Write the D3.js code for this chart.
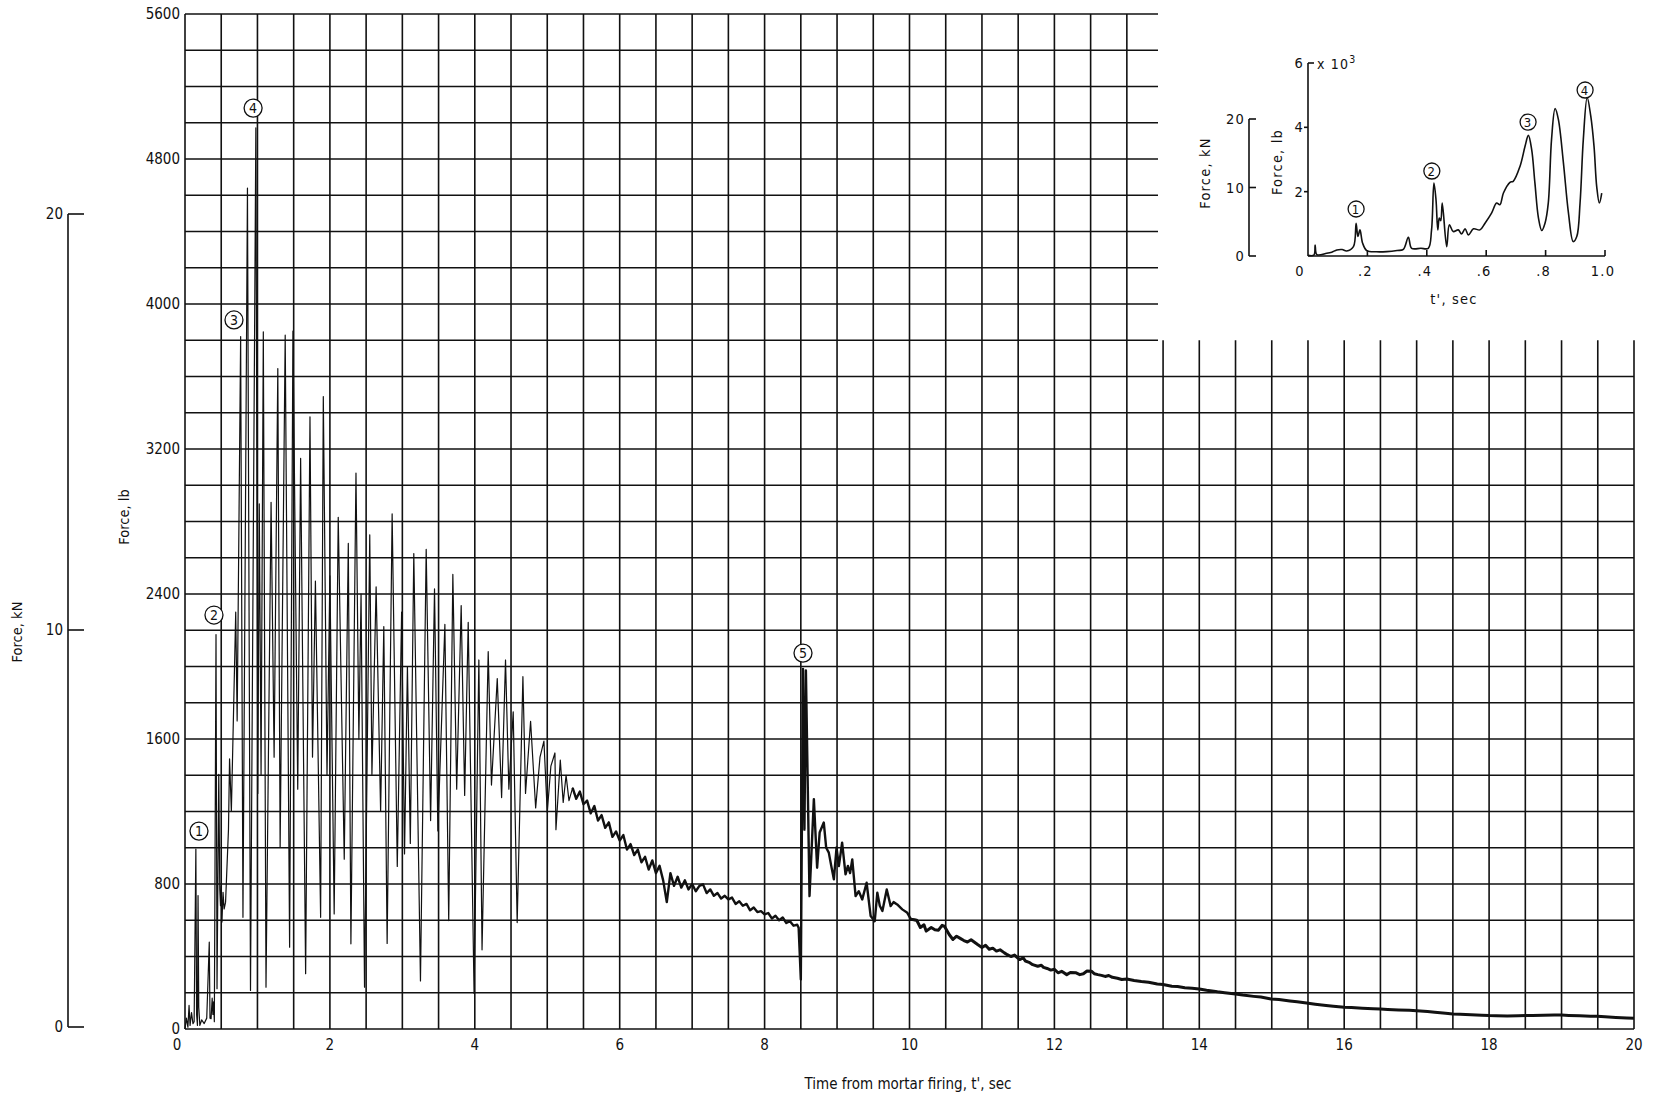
<!DOCTYPE html>
<html><head><meta charset="utf-8">
<script src="https://cdn.jsdelivr.net/npm/d3@7"></script>
<style>
html,body{margin:0;padding:0;background:#fff;}
svg text{font-family:"Liberation Sans Narrow","DejaVu Sans Condensed",sans-serif;fill:#111;}
.ins text{letter-spacing:1.2px;}
</style></head><body>
<svg id="c" width="1655" height="1098"></svg>
<script>
// ---------------- DATA ----------------
const mainTimeTicks = [0, 2, 4, 6, 8, 10, 12, 14, 16, 18, 20];
const mainForceTicks = [0, 800, 1600, 2400, 3200, 4000, 4800, 5600];
const mainKNTicks = [0, 10, 20];
const mainTitleX = "Time from mortar firing,  t', sec";
const mainTitleLb = "Force, lb";
const mainTitleKN = "Force, kN";

// [time s, force lb]
const mainTrace = [
[0.00,0],[0.02,60],[0.04,10],[0.056,130],[0.07,20],[0.09,90],[0.11,30],[0.126,40],[0.15,993],[0.16,80],
[0.172,20],[0.18,736],[0.19,120],[0.205,20],[0.23,50],[0.265,30],[0.30,60],[0.335,479],[0.345,60],[0.36,57],
[0.375,170],[0.385,80],[0.395,150],[0.405,40],[0.428,2176],[0.442,222],[0.466,1405],[0.48,772],[0.49,680],[0.50,790],
[0.51,590],[0.525,754],[0.54,662],[0.56,700],[0.60,1100],[0.615,1490],[0.64,1200],[0.70,2300],[0.72,1700],[0.768,3820],
[0.80,616],[0.862,4640],[0.904,213],[0.978,4972],[1.005,1300],[1.025,2897],[1.05,1400],[1.081,3847],[1.118,231],[1.188,2906],
[1.23,1500],[1.281,3644],[1.313,1002],[1.383,3828],[1.444,451],[1.49,3850],[1.556,1323],[1.596,3148],[1.665,305],[1.725,3378],
[1.76,1500],[1.80,2471],[1.872,616],[1.909,3489],[1.96,1400],[2.00,2500],[2.059,635],[2.115,2823],[2.198,937],[2.254,2679],
[2.29,470],[2.36,3067],[2.40,1600],[2.43,2400],[2.478,231],[2.55,2727],[2.58,1404],[2.638,2439],[2.70,1200],[2.744,2220],
[2.79,472],[2.859,2842],[2.93,897],[2.99,2300],[3.03,966],[3.07,2000],[3.11,1024],[3.158,2623],[3.25,265],[3.329,2646],
[3.39,1150],[3.444,2428],[3.49,1093],[3.587,2232],[3.64,598],[3.697,2508],[3.75,1323],[3.812,2336],[3.86,1289],[3.909,2243],
[3.99,196],[4.056,2036],[4.10,437],[4.185,2082],[4.23,1346],[4.31,1933],[4.37,1277],[4.424,2036],[4.47,1323],[4.53,1750],
[4.585,587],[4.664,1944],[4.70,1300],[4.77,1698],[4.84,1220],[4.90,1500],[4.954,1588],[5.00,1196],[5.05,1450],[5.106,1523],
[5.12,1100],[5.18,1484],[5.22,1250],[5.26,1400],[5.30,1260],[5.35,1330],[5.40,1270],[5.45,1310],[5.50,1240],[5.55,1260],
[5.60,1190],[5.65,1230],[5.70,1150],[5.75,1180],[5.80,1110],[5.85,1140],[5.90,1060],[5.95,1090],[6.00,1040],[6.05,1070],
[6.10,990],[6.15,1020],[6.20,960],[6.25,990],[6.30,920],[6.35,950],[6.40,880],[6.45,930],[6.50,860],[6.55,900],
[6.60,820],[6.65,700],[6.70,860],[6.75,790],[6.80,840],[6.85,780],[6.90,820],[6.95,770],[7.00,800],[7.05,760],
[7.10,790],[7.15,798],[7.20,750],[7.25,770],[7.30,735],[7.35,750],[7.40,720],[7.45,735],[7.50,715],[7.55,725],
[7.60,690],[7.65,705],[7.70,680],[7.75,690],[7.80,655],[7.85,670],[7.90,645],[7.95,650],[8.00,632],[8.05,640],
[8.10,610],[8.15,625],[8.20,600],[8.25,615],[8.30,585],[8.35,595],[8.40,570],[8.45,575],[8.47,558],[8.50,273],
[8.53,1987],[8.55,1100],[8.57,1978],[8.62,733],[8.68,1268],[8.725,890],[8.76,1084],[8.817,1139],[8.85,1000],[8.886,973],
[8.92,900],[8.956,826],[8.993,1001],[9.025,899],[9.07,1028],[9.117,853],[9.15,900],[9.18,860],[9.21,936],[9.256,733],
[9.30,760],[9.348,715],[9.408,807],[9.464,623],[9.52,595],[9.556,752],[9.59,680],[9.626,651],[9.686,770],[9.74,678],
[9.78,700],[9.83,687],[9.90,660],[9.97,641],[10.02,605],[10.10,600],[10.15,560],[10.20,575],[10.23,540],[10.30,560],
[10.35,548],[10.40,545],[10.45,572],[10.48,568],[10.55,520],[10.60,494],[10.65,512],[10.70,500],[10.75,488],[10.80,480],
[10.85,492],[10.94,466],[11.00,450],[11.05,462],[11.10,440],[11.15,446],[11.20,430],[11.25,437],[11.31,420],[11.35,410],
[11.40,400],[11.45,408],[11.52,383],[11.57,392],[11.60,375],[11.65,368],[11.70,355],[11.77,346],[11.82,352],[11.85,340],
[11.90,334],[11.95,325],[12.00,330],[12.05,310],[12.10,318],[12.17,300],[12.22,312],[12.30,310],[12.35,300],[12.40,305],
[12.45,320],[12.51,319],[12.55,305],[12.60,300],[12.65,296],[12.70,290],[12.75,295],[12.80,285],[12.87,280],[12.93,273],
[13.00,276],[13.10,268],[13.20,262],[13.30,258],[13.42,248],[13.50,246],[13.62,236],[13.70,234],[13.80,228],[13.90,225],
[14.00,221],[14.10,214],[14.25,205],[14.35,200],[14.50,193],[14.60,187],[14.75,180],[14.85,176],[14.99,166],[15.10,163],
[15.25,155],[15.35,150],[15.48,143],[15.60,137],[15.75,130],[15.85,126],[16.00,120],[16.10,118],[16.25,115],[16.40,112],
[16.50,110],[16.60,108],[16.75,105],[16.90,103],[17.00,101],[17.15,96],[17.25,92],[17.40,87],[17.50,83],[17.60,81],
[17.75,78],[17.90,76],[18.00,74],[18.10,73],[18.25,72],[18.40,73],[18.51,74],[18.60,75],[18.75,76],[18.90,77],
[19.00,77],[19.10,75],[19.25,73],[19.40,71],[19.49,70],[19.60,67],[19.75,64],[19.90,61],[20.00,59]
];
// circled event numbers: [label, time s, force lb] (position of the circle)
const mainMarkers = [["1",0.193,1092],["2",0.40,2284],["3",0.676,3912],["4",0.94,5081],["5",8.53,2074]];

// Inset
const insetTimeTicks = [0, 0.2, 0.4, 0.6, 0.8, 1.0];
const insetTimeLabels = ["0", ".2", ".4", ".6", ".8", "1.0"];
const insetForceTicks = [2000, 4000, 6000];
const insetForceLabels = ["2", "4", "6"];
const insetKNTicks = [0, 10, 20];
const insetTitleX = "t', sec";
const insetTrace = [
[0.0,20],[0.02,30],[0.024,344],[0.03,40],[0.063,83],[0.08,120],[0.097,187],[0.115,200],[0.13,156],[0.153,290],
[0.162,1020],[0.168,604],[0.175,812],[0.184,396],[0.198,167],[0.23,130],[0.265,135],[0.30,170],[0.321,208],[0.338,583],
[0.349,240],[0.38,240],[0.405,240],[0.416,812],[0.424,2271],[0.431,1750],[0.437,812],[0.442,1177],[0.447,1100],[0.452,1646],
[0.467,290],[0.476,969],[0.489,760],[0.506,812],[0.517,687],[0.529,844],[0.540,656],[0.557,844],[0.579,812],[0.596,1020],
[0.618,1333],[0.635,1646],[0.646,1594],[0.658,1958],[0.680,2292],[0.691,2323],[0.714,2792],[0.731,3417],[0.742,3750],[0.753,3312],
[0.764,2271],[0.776,1177],[0.787,792],[0.798,1020],[0.809,1646],[0.820,3625],[0.832,4583],[0.843,4250],[0.860,2896],[0.877,1333],
[0.893,448],[0.905,604],[0.916,1646],[0.927,3625],[0.940,4927],[0.952,4354],[0.963,3417],[0.972,2167],[0.981,1646],[0.989,1958]
];
const insetMarkers = [["1",0.162,1461],["2",0.417,2642],["3",0.741,4165],["4",0.933,5160]];

// ---------------- DRAW ----------------
const svg = d3.select("#c");
svg.append("rect").attr("width",1655).attr("height",1098).attr("fill","#fff");

const x = d3.scaleLinear().domain([0,20]).range([185,1634]);
const y = d3.scaleLinear().domain([0,5600]).range([1029,14]);
const yKN = d3.scaleLinear().domain([0,10,20]).range([1027,630,214]);

// grid
const grid = svg.append("g").attr("stroke","#111").attr("stroke-width",1.6).attr("fill","none");
const cutT = 13.43, cutLb = 3800;
d3.range(0,20.001,0.5).forEach(t=>{
  const top = t > 13.2 ? cutLb : 5600;
  grid.append("line").attr("x1",x(t)).attr("x2",x(t)).attr("y1",y(0)).attr("y2",y(top));
});
d3.range(0,5600.1,200).forEach(v=>{
  const right = v >= cutLb - 1 ? cutT : 20;
  grid.append("line").attr("x1",x(0)).attr("x2",x(right)).attr("y1",y(v)).attr("y2",y(v));
});

// main axes labels
svg.append("g").selectAll("text").data(mainForceTicks).join("text")
  .attr("x",180).attr("y",d=>y(d)).attr("dy","0.35em").attr("text-anchor","end")
  .attr("font-size",15).text(d=>d);
svg.append("g").selectAll("text").data(mainTimeTicks).join("text")
  .attr("x",d=>x(d)+(d===0?-8:0)).attr("y",1050).attr("text-anchor","middle")
  .attr("font-size",15).text(d=>d);
svg.append("text").attr("x",908).attr("y",1089).attr("text-anchor","middle")
  .attr("font-size",15).text(mainTitleX);
svg.append("text").attr("transform","translate(129,517) rotate(-90)").attr("text-anchor","middle")
  .attr("font-size",14.5).text(mainTitleLb);
svg.append("text").attr("transform","translate(22,632) rotate(-90)").attr("text-anchor","middle")
  .attr("font-size",14.5).text(mainTitleKN);

// kN axis (left)
const kx = 68;
const kg = svg.append("g").attr("stroke","#111").attr("stroke-width",1.6).attr("fill","none");
kg.append("line").attr("x1",kx).attr("x2",kx).attr("y1",yKN(0)).attr("y2",yKN(20));
mainKNTicks.forEach(v=>kg.append("line").attr("x1",kx).attr("x2",kx+16).attr("y1",yKN(v)).attr("y2",yKN(v)));
svg.append("g").selectAll("text").data(mainKNTicks).join("text")
  .attr("x",63).attr("y",d=>yKN(d)).attr("dy","0.35em").attr("text-anchor","end")
  .attr("font-size",15).text(d=>d);

// main trace
const line = d3.line().x(d=>x(d[0])).y(d=>y(d[1]));
svg.append("path").datum(mainTrace.filter(d=>d[0]<=5.4))
  .attr("d",line).attr("fill","none").attr("stroke","#111").attr("stroke-width",1.2).attr("stroke-linejoin","round");
svg.append("path").datum(mainTrace.filter(d=>d[0]>=5.35 && d[0]<=10.1))
  .attr("d",line).attr("fill","none").attr("stroke","#111").attr("stroke-width",2.4).attr("stroke-linejoin","round");
svg.append("path").datum(mainTrace.filter(d=>d[0]>=10.0))
  .attr("d",line).attr("fill","none").attr("stroke","#111").attr("stroke-width",3).attr("stroke-linejoin","round");

// markers
function circled(g, cx, cy, r, label, fs){
  g.append("circle").attr("cx",cx).attr("cy",cy).attr("r",r).attr("fill","#fff").attr("stroke","#111").attr("stroke-width",1.3);
  g.append("text").attr("x",cx).attr("y",cy).attr("dy","0.36em").attr("text-anchor","middle").attr("font-size",fs).text(label);
}
const mg = svg.append("g");
mainMarkers.forEach(m=>circled(mg, x(m[1]), y(m[2]), 9, m[0], 14));

// ---------------- INSET ----------------
const ins = svg.append("g").attr("class","ins");
const ix = d3.scaleLinear().domain([0,1]).range([1308,1605]);
const iy = d3.scaleLinear().domain([0,6000]).range([256,63]);
const iyKN = d3.scaleLinear().domain([0,20]).range([256,119]);
const ia = ins.append("g").attr("stroke","#111").attr("stroke-width",1.6).attr("fill","none");
// lb axis
ia.append("line").attr("x1",ix(0)).attr("x2",ix(0)).attr("y1",iy(0)).attr("y2",iy(6000));
ia.append("line").attr("x1",ix(0)).attr("x2",ix(0)+6).attr("y1",iy(6000)).attr("y2",iy(6000));
insetForceTicks.slice(0,2).forEach(v=>ia.append("line").attr("x1",ix(0)-4).attr("x2",ix(0)).attr("y1",iy(v)).attr("y2",iy(v)));
// time axis
ia.append("line").attr("x1",ix(0)).attr("x2",ix(1)).attr("y1",iy(0)).attr("y2",iy(0));
insetTimeTicks.slice(1).forEach(t=>ia.append("line").attr("x1",ix(t)).attr("x2",ix(t)).attr("y1",iy(0)).attr("y2",iy(0)-6));
// kN axis
const ikx = 1249;
ia.append("line").attr("x1",ikx).attr("x2",ikx).attr("y1",iyKN(0)).attr("y2",iyKN(20));
insetKNTicks.forEach(v=>ia.append("line").attr("x1",ikx).attr("x2",ikx+7).attr("y1",iyKN(v)).attr("y2",iyKN(v)));

ins.selectAll("text.tl").data(insetTimeTicks).join("text").attr("class","tl")
  .attr("x",(d,i)=>ix(d)+(i===0?-8:-2)).attr("y",276).attr("text-anchor","middle")
  .attr("font-size",14.5).text((d,i)=>insetTimeLabels[i]);
ins.selectAll("text.fl").data(insetForceTicks).join("text").attr("class","fl")
  .attr("x",1304).attr("y",d=>iy(d)).attr("dy","0.35em").attr("text-anchor","end")
  .attr("font-size",14.5).text((d,i)=>insetForceLabels[i]);
const xt = ins.append("text").attr("x",1317).attr("y",iy(6000)+6).attr("font-size",14);
xt.append("tspan").text("x 10");
xt.append("tspan").attr("dy",-6).attr("font-size",10.5).text("3");
ins.selectAll("text.kl").data(insetKNTicks).join("text").attr("class","kl")
  .attr("x",1245).attr("y",d=>iyKN(d)).attr("dy","0.35em").attr("text-anchor","end")
  .attr("font-size",14.5).text(d=>d);
ins.append("text").attr("x",1454).attr("y",304).attr("text-anchor","middle").attr("font-size",14.5).text(insetTitleX);
ins.append("text").attr("transform","translate(1282,162) rotate(-90)").attr("text-anchor","middle").attr("font-size",14.5).text(mainTitleLb);
ins.append("text").attr("transform","translate(1210,173) rotate(-90)").attr("text-anchor","middle").attr("font-size",14.5).text(mainTitleKN);

const iline = d3.line().x(d=>ix(d[0])).y(d=>iy(d[1])).curve(d3.curveCatmullRom.alpha(0.5));
ins.append("path").datum(insetTrace).attr("d",iline).attr("fill","none").attr("stroke","#111").attr("stroke-width",1.6);
insetMarkers.forEach(m=>circled(ins, ix(m[1]), iy(m[2]), 8, m[0], 13));
</script></body></html>
